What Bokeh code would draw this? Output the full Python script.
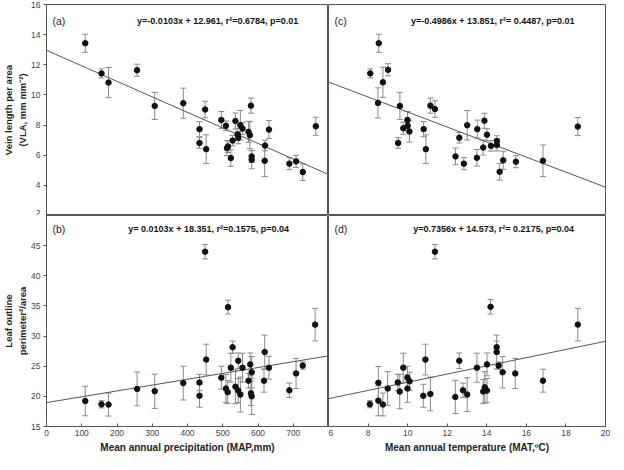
from bokeh.plotting import figure
from bokeh.layouts import gridplot
from bokeh.models import ColumnDataSource, Whisker, TeeHead, Label, FixedTicker, Range1d, Title
from bokeh.embed import file_html
from bokeh.resources import INLINE

# ---------------- data ----------------
# (a) VLA vs MAP
map_a = [110, 156, 176, 257, 307, 388, 434, 434, 450, 453,
         496, 509, 536, 550, 556, 542, 544, 528, 515, 512,
         523, 573, 577, 580, 582, 582, 620, 619, 631, 689,
         708, 727, 764]
vla_a = [13.43, 11.43, 10.82, 11.64, 9.27, 9.45, 7.73, 6.81, 9.03, 6.40,
         8.34, 7.95, 8.27, 7.99, 7.77, 7.38, 7.16, 6.97, 6.58, 6.47,
         5.81, 7.55, 7.33, 9.29, 5.92, 5.70, 6.64, 5.63, 7.70, 5.44,
         5.59, 4.88, 7.92]
vla_err_a = [0.6, 0.3, 1.0, 0.4, 0.9, 1.0, 0.5, 0.35, 0.55, 0.95,
             0.56, 0.32, 0.53, 0.98, 0.4, 0.4, 0.4, 0.35, 0.4, 0.5,
             0.55, 0.7, 0.9, 0.5, 0.4, 0.6, 0.35, 1.05, 0.6, 0.4,
             0.4, 0.55, 0.6]

# (c) VLA vs MAT
mat_c = [8.11, 8.54, 8.75, 8.50, 9.01, 9.61, 9.52, 9.78, 9.99, 10.00,
         10.09, 10.81, 10.92, 11.15, 11.38, 12.42, 12.61, 12.84, 13.01, 13.52,
         13.50, 13.88, 14.01, 13.82, 14.21, 14.51, 14.51, 14.65, 14.83, 15.47,
         16.84, 18.60]
vla_c = [11.43, 13.43, 10.84, 9.47, 11.67, 9.27, 6.81, 7.79, 8.34, 7.95,
         7.57, 7.73, 6.40, 9.29, 9.06, 5.92, 7.16, 5.44, 7.99, 7.73,
         5.83, 8.29, 7.36, 6.51, 6.62, 6.94, 6.68, 4.90, 5.66, 5.57,
         5.63, 7.90]
vla_err_c = [0.3, 0.6, 1.0, 1.0, 0.4, 0.9, 0.35, 0.4, 0.56, 0.32,
             0.7, 0.5, 0.95, 0.5, 0.55, 0.55, 0.35, 0.4, 0.98, 0.6,
             0.55, 0.5, 0.4, 0.5, 0.35, 0.35, 0.4, 0.55, 0.6, 0.4,
             1.05, 0.6]

# (b) leaf outline perimeter^2/area vs MAP
map_b = [110, 156, 176, 257, 307, 388, 434, 434, 450, 453,
         496, 509, 514, 515, 523, 528, 536, 544, 544, 550,
         556, 573, 578, 582, 580, 582, 619, 617, 631, 689,
         708, 727, 762]
lpa_b = [19.23, 18.68, 18.63, 21.23, 20.85, 22.2, 22.3, 20.1, 44.0, 26.1,
         23.1, 21.3, 20.7, 34.8, 24.75, 28.15, 21.6, 25.9, 20.96, 20.3,
         24.75, 22.6, 25.3, 24.0, 20.5, 20.0, 27.35, 22.6, 24.75, 21.0,
         23.8, 25.1, 31.9]
lpa_err_b = [2.45, 0.6, 1.9, 2.8, 2.85, 2.8, 1.35, 1.9, 1.2, 2.55,
             1.9, 2.3, 1.9, 1.15, 2.4, 1.0, 2.8, 1.3, 2.0, 2.9,
             2.4, 1.2, 1.9, 2.6, 2.0, 3.0, 2.8, 1.9, 1.9, 1.2,
             2.5, 0.6, 2.7]

# (d) leaf outline perimeter^2/area vs MAT
mat_d = [8.09, 8.52, 8.52, 8.75, 8.99, 9.50, 9.60, 9.78, 9.99, 9.99,
         10.10, 10.90, 10.79, 11.15, 11.38, 14.19, 12.41, 12.61, 12.80, 13.01,
         13.50, 13.90, 13.82, 14.01, 14.01, 14.50, 14.50, 14.60, 14.80, 15.44,
         16.84, 18.60]
lpa_d = [18.7, 22.25, 19.28, 18.65, 21.3, 22.3, 20.8, 24.75, 23.1, 21.3,
         22.5, 26.1, 20.1, 20.4, 44.0, 34.85, 19.9, 25.9, 21.0, 20.3,
         24.75, 21.5, 20.8, 20.96, 25.3, 28.15, 27.35, 25.1, 24.0, 23.8,
         22.6, 31.9]
lpa_err_d = [0.6, 2.7, 2.5, 1.9, 2.8, 1.35, 2.85, 2.4, 1.9, 2.3,
             1.5, 2.55, 1.9, 2.8, 1.2, 1.2, 2.75, 1.3, 1.2, 2.8,
             2.4, 2.6, 2.0, 2.0, 1.9, 1.0, 2.8, 0.6, 2.6, 2.5,
             1.9, 2.7]

# regression lines (slope, intercept) as drawn
fit_a = (-0.0103, 12.961)
fit_b = (0.0097, 18.96)
fit_c = (-0.4986, 13.851)
fit_d = (0.68, 15.54)

eq_a = "y=-0.0103x + 12.961, r\u00b2=0.6784, p=0.01"
eq_b = "y= 0.0103x + 18.351, r\u00b2=0.1575, p=0.04"
eq_c = "y=-0.4986x + 13.851, r\u00b2= 0.4487, p=0.01"
eq_d = "y=0.7356x + 14.573, r\u00b2= 0.2175, p=0.04"

map_ticks = [0, 100, 200, 300, 400, 500, 600, 700]
mat_ticks = [6, 8, 10, 12, 14, 16, 18, 20]
vla_ticks = [2, 4, 6, 8, 10, 12, 14, 16]
lpa_ticks = [15, 20, 25, 30, 35, 40, 45]

map_range = (0, 800)
mat_range = (6, 20)
vla_range = (2, 16)
lpa_range = (15, 50)

# ---------------- style ----------------
FONT = "Liberation Sans"
AXC = "#555555"
ECOL = "#8a8a8a"
FH = 211
FW_L = 282
FW_R = 277


def panel(xs, ys, errs, xr, yr, fit, letter, eq, eq_frac, left, top):
    p = figure(x_range=Range1d(*xr), y_range=Range1d(*yr),
               frame_width=FW_L if left else FW_R, frame_height=FH,
               output_backend="svg", toolbar_location=None,
               x_axis_location=None if top else "below",
               y_axis_location="left" if left else None,
               min_border_left=44 if left else 0,
               min_border_right=0 if left else 5,
               min_border_top=4 if top else 0,
               min_border_bottom=0)
    p.outline_line_color = AXC
    p.outline_line_width = 1
    p.background_fill_color = "white"
    p.border_fill_color = "white"
    for g in p.grid:
        g.visible = False

    up = [y + e for y, e in zip(ys, errs)]
    lo = [y - e for y, e in zip(ys, errs)]
    src = ColumnDataSource(dict(x=xs, y=ys, upper=up, lower=lo))

    lx = [xr[0], xr[1]]
    ly = [fit[1] + fit[0] * v for v in lx]
    p.line(lx, ly, line_color="#555555", line_width=1)

    w = Whisker(source=src, base="x", upper="upper", lower="lower",
                dimension="height", line_color=ECOL, line_width=1,
                upper_head=TeeHead(size=6, line_color=ECOL, line_width=1),
                lower_head=TeeHead(size=6, line_color=ECOL, line_width=1))
    p.add_layout(w)
    p.scatter("x", "y", source=src, size=5.5, fill_color="#111111",
              line_color="#111111")

    yoff = -16 if top else -13
    p.add_layout(Label(x=xr[0], y=yr[1], x_offset=6, y_offset=yoff,
                       text=letter, text_font=FONT, text_font_size="10.5px",
                       text_color="#222222", text_align="left",
                       text_baseline="middle"))
    p.add_layout(Label(x=xr[0] + eq_frac * (xr[1] - xr[0]), y=yr[1],
                       y_offset=yoff, text=eq, text_font=FONT,
                       text_font_size="9px", text_font_style="bold",
                       text_color="#111111", text_align="center",
                       text_baseline="middle"))
    return p


def style_axis(ax, out_ticks):
    ax.axis_line_color = AXC
    ax.major_tick_line_color = AXC
    ax.minor_tick_line_color = None
    if out_ticks:
        ax.major_tick_out = 3
        ax.major_tick_in = 0
    else:
        ax.major_tick_out = 0
        ax.major_tick_in = 3
    ax.major_label_standoff = 3
    ax.major_label_text_font = FONT
    ax.major_label_text_font_size = "8.5px"
    ax.major_label_text_color = "#444444"
    ax.axis_label_text_font = FONT
    ax.axis_label_text_font_size = "10px"
    ax.axis_label_text_font_style = "bold"
    ax.axis_label_text_color = "#222222"
    ax.axis_label_standoff = 3


def ytitle(p, lines):
    # inner line first (closest to the axis), then the outer line
    for t in reversed(lines):
        p.add_layout(Title(text=t, align="center", text_font=FONT,
                           text_font_size="9.5px", text_font_style="bold",
                           text_color="#222222", standoff=1, offset=0), "left")


pa = panel(map_a, vla_a, vla_err_a, map_range, vla_range, fit_a, "(a)", eq_a, 0.607, True, True)
pc = panel(mat_c, vla_c, vla_err_c, mat_range, vla_range, fit_c, "(c)", eq_c, 0.593, False, True)
pb = panel(map_b, lpa_b, lpa_err_b, map_range, lpa_range, fit_b, "(b)", eq_b, 0.575, True, False)
pd = panel(mat_d, lpa_d, lpa_err_d, mat_range, lpa_range, fit_d, "(d)", eq_d, 0.596, False, False)

# y axes (left column)
pa.yaxis.ticker = FixedTicker(ticks=vla_ticks)
style_axis(pa.yaxis[0], True)
pb.yaxis.ticker = FixedTicker(ticks=lpa_ticks)
style_axis(pb.yaxis[0], True)

# x axes (bottom row)
pb.xaxis.ticker = FixedTicker(ticks=map_ticks)
pb.xaxis.axis_label = "Mean annual precipitation (MAP,mm)"
style_axis(pb.xaxis[0], False)
pd.xaxis.ticker = FixedTicker(ticks=mat_ticks)
pd.xaxis.axis_label = "Mean annual temperature (MAT,\u00baC)"
style_axis(pd.xaxis[0], False)

ytitle(pa, ["Vein length per area", "(VLA, mm mm\u207b\u00b2)"])
ytitle(pb, ["Leaf outline", "perimeter\u00b2/area"])

grid = gridplot([[pa, pc], [pb, pd]], toolbar_location=None)

open("out.html", "w").write(file_html(grid, INLINE))
